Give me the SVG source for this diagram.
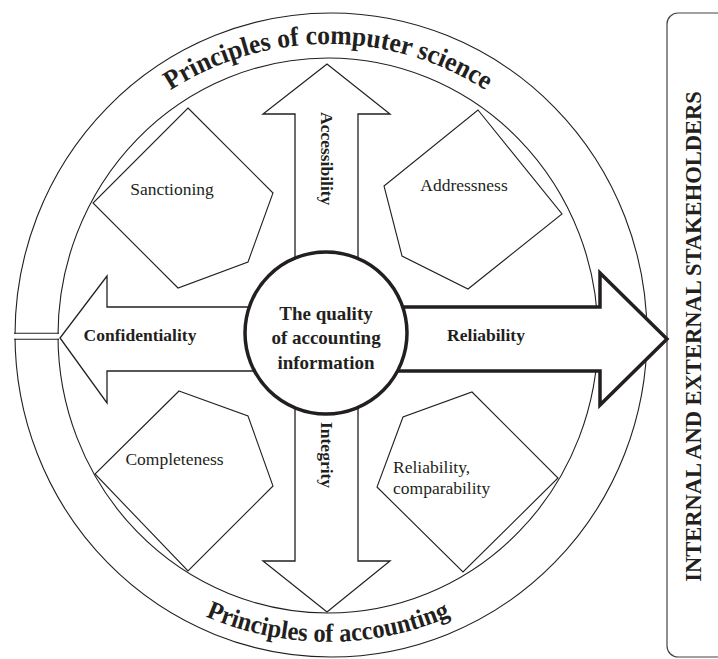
<svg xmlns="http://www.w3.org/2000/svg" width="718" height="659" viewBox="0 0 718 659">
<style>
.ln{fill:none;stroke:#231f20;stroke-width:1.1}
.ar{fill:#fff;stroke:#231f20;stroke-width:1.3;stroke-linejoin:miter}
.lab{font-family:"Liberation Serif","Times New Roman",serif;fill:#231f20;font-size:17.5px}
.b{font-weight:bold}
.ctr{font-size:19px}
.stk{font-size:22.5px}
.arc{font-family:"Liberation Serif","Times New Roman",serif;fill:#231f20;font-weight:bold}
</style>
<defs>
<path id="topArc" d="M 37 335 A 291 291 0 0 1 619 335"/>
<path id="botArc" d="M 21 335 A 307 307 0 0 0 635 335"/>
</defs>
<rect width="718" height="659" fill="#fff"/>
<g id="rings">
<ellipse cx="331" cy="335" rx="316" ry="322" fill="#fff" stroke="#231f20" stroke-width="1.1"/>
<ellipse class="ln" cx="328" cy="335.5" rx="270" ry="277.5"/>
<rect x="9" y="333.8" width="50" height="5" fill="#fff"/>
<line class="ln" x1="14" y1="333.3" x2="59" y2="333.3"/>
<line class="ln" x1="14" y1="339.3" x2="59" y2="339.3"/>
<text class="arc" font-size="27"><textPath href="#topArc" startOffset="50%" text-anchor="middle" textLength="333" lengthAdjust="spacingAndGlyphs">Principles of computer science</textPath></text>
<text class="arc" font-size="26"><textPath href="#botArc" startOffset="50%" text-anchor="middle" textLength="252" lengthAdjust="spacingAndGlyphs">Principles of accounting</textPath></text>
</g>
<g id="stakeholders">
<rect x="667" y="13" width="90" height="644" rx="11" fill="none" stroke="#444" stroke-width="1.2"/>
<text class="lab b stk" transform="translate(701,336.5) rotate(-90)" text-anchor="middle">INTERNAL AND EXTERNAL STAKEHOLDERS</text>
</g>
<g id="sanctioning">
<polygon class="ln" points="188,108 273,193 248,262 178,288 93,203"/>
<text class="lab" x="172" y="195" text-anchor="middle">Sanctioning</text>
</g>
<g id="addressness">
<polygon class="ln" points="478,110 562,214 468,289 402,256 384,186"/>
<text class="lab" x="464" y="191" text-anchor="middle">Addressness</text>
</g>
<g id="completeness">
<polygon class="ln" points="179,391 248,416 273,486 188,571 95,474"/>
<text class="lab" x="174.5" y="465" text-anchor="middle">Completeness</text>
</g>
<g id="reliability-comparability">
<polygon class="ln" points="472,392 558,478 463,572 377,487 403,417"/>
<text class="lab" x="393" y="473">Reliability,</text>
<text class="lab" x="393" y="494">comparability</text>
</g>
<g id="connectors">
<polygon id="arrow-accessibility" class="ar" points="295,333 295,114 263,114 327,64 390,114 358,114 358,333"/>
<polygon id="arrow-integrity" class="ar" points="295,333 295,561 263,561 327,612 390,561 358,561 358,333"/>
<polygon id="arrow-confidentiality" class="ar" points="326,307 107,307 107,276 60,338 107,403 107,371 326,371"/>
<polygon id="arrow-reliability" class="ar" stroke-width="3.5" style="stroke-width:3.5" points="326,307 600,307 600,273 667,339 600,405 600,371 326,371"/>
</g>
<g id="arrow-labels">
<text class="lab b" transform="translate(321,112) rotate(90)">Accessibility</text>
<text class="lab b" transform="translate(321,422) rotate(90)">Integrity</text>
<text class="lab b" x="140" y="341" text-anchor="middle">Confidentiality</text>
<text class="lab b" x="486" y="341" text-anchor="middle">Reliability</text>
</g>
<g id="center">
<circle cx="326" cy="333" r="81" fill="#fff" stroke="#231f20" stroke-width="3.5"/>
<text class="lab b ctr" x="326" y="320" text-anchor="middle">The quality</text>
<text class="lab b ctr" x="326" y="344" text-anchor="middle">of accounting</text>
<text class="lab b ctr" x="326" y="369" text-anchor="middle">information</text>
</g>
</svg>
